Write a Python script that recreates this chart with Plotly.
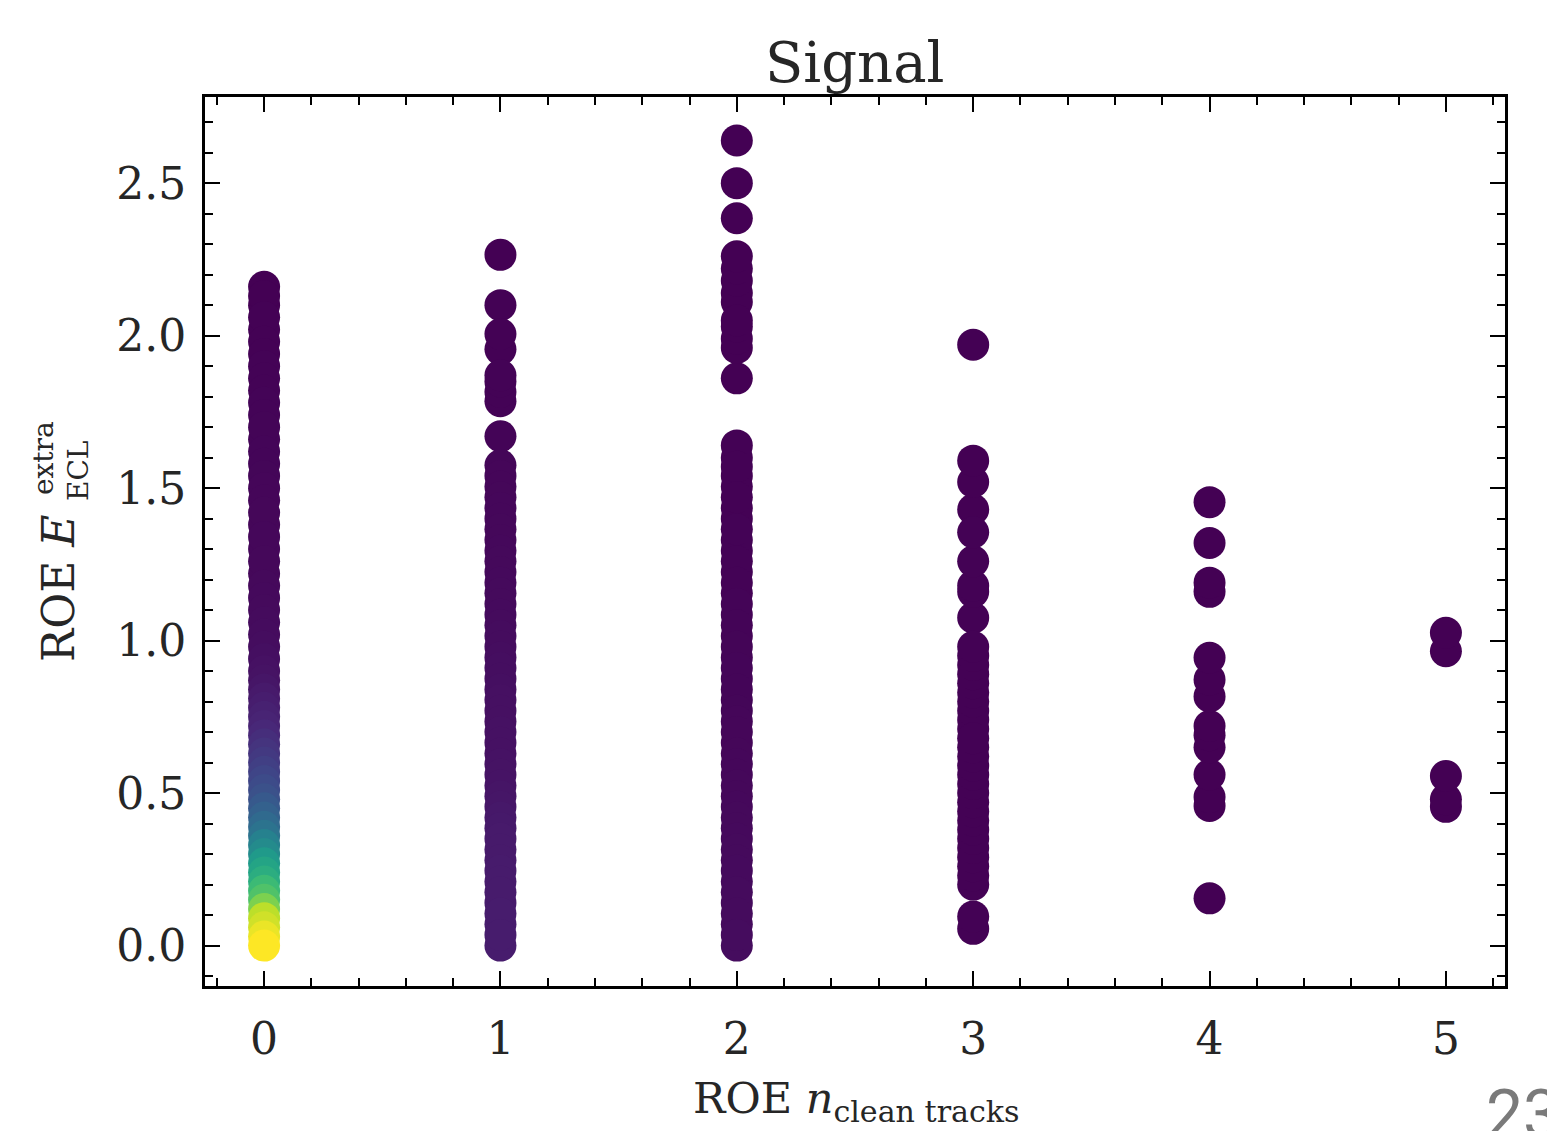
import plotly.graph_objects as go

# ---------------- data ----------------
# ROE n_clean_tracks = 0
N0_Y = [0.00, 0.03, 0.06, 0.09, 0.12, 0.15, 0.18, 0.21, 0.24, 0.27, 0.30, 0.33, 0.36, 0.39,
        0.42, 0.45, 0.48, 0.51, 0.54, 0.57, 0.60, 0.63, 0.66, 0.69, 0.72, 0.75, 0.78, 0.81,
        0.84, 0.87, 0.90, 0.94, 0.98, 1.02, 1.06, 1.10, 1.14, 1.18, 1.22, 1.26, 1.30, 1.34,
        1.38, 1.42, 1.46, 1.50, 1.54, 1.58, 1.62, 1.66, 1.70, 1.74, 1.78, 1.82, 1.86, 1.90,
        1.94, 1.98, 2.02, 2.06, 2.10, 2.13, 2.16]
N0_D = [1.00, 0.97, 0.93, 0.90, 0.80, 0.72, 0.68, 0.62, 0.58, 0.54, 0.48, 0.44, 0.38, 0.34,
        0.31, 0.28, 0.25, 0.23, 0.21, 0.19, 0.17, 0.15, 0.13, 0.11, 0.10, 0.09, 0.08, 0.07,
        0.06, 0.05, 0.045, 0.04, 0.035, 0.03, 0.028, 0.026, 0.024, 0.022, 0.020, 0.020, 0.018, 0.018,
        0.016, 0.016, 0.015, 0.014, 0.013, 0.012, 0.011, 0.010, 0.010, 0.009, 0.008, 0.007, 0.006, 0.005,
        0.004, 0.003, 0.002, 0.002, 0.001, 0.001, 0.000]

# ROE n_clean_tracks = 1
N1_Y = [0.00, 0.035, 0.07, 0.105, 0.14, 0.175, 0.21, 0.245, 0.28, 0.315, 0.35, 0.385, 0.42,
        0.455, 0.49, 0.525, 0.56, 0.595, 0.63, 0.665, 0.70, 0.735, 0.77, 0.805, 0.84, 0.875,
        0.91, 0.945, 0.98, 1.015, 1.05, 1.085, 1.12, 1.155, 1.19, 1.225, 1.26, 1.295, 1.33,
        1.365, 1.40, 1.435, 1.47, 1.505, 1.54, 1.575, 1.67, 1.785, 1.815, 1.85, 1.87, 1.955,
        2.005, 2.10, 2.265]
N1_D = [0.078, 0.078, 0.076, 0.076, 0.075, 0.075, 0.074, 0.073, 0.072, 0.071, 0.070, 0.068, 0.065,
        0.060, 0.056, 0.052, 0.050, 0.048, 0.047, 0.046, 0.045, 0.044, 0.043, 0.042, 0.040, 0.038,
        0.036, 0.034, 0.032, 0.030, 0.028, 0.027, 0.026, 0.025, 0.024, 0.023, 0.022, 0.021, 0.02,
        0.019, 0.018, 0.017, 0.016, 0.015, 0.014, 0.013, 0.008, 0.006, 0.006, 0.006, 0.006, 0.004,
        0.004, 0.002, 0.000]

# ROE n_clean_tracks = 2
N2_Y = [0.00, 0.035, 0.07, 0.105, 0.14, 0.175, 0.21, 0.245, 0.28, 0.315, 0.35, 0.385, 0.42,
        0.455, 0.49, 0.525, 0.56, 0.595, 0.63, 0.665, 0.70, 0.735, 0.77, 0.805, 0.84, 0.875,
        0.91, 0.945, 0.98, 1.015, 1.05, 1.085, 1.12, 1.155, 1.19, 1.225, 1.26, 1.295, 1.33,
        1.365, 1.40, 1.435, 1.47, 1.505, 1.54, 1.57, 1.60, 1.64, 1.86, 1.96, 1.99, 2.03, 2.05,
        2.11, 2.14, 2.18, 2.22, 2.26, 2.385, 2.50, 2.64]
N2_D = [0.030, 0.030, 0.029, 0.029, 0.028, 0.028, 0.027, 0.027, 0.026, 0.025, 0.024, 0.023, 0.022,
        0.021, 0.020, 0.019, 0.018, 0.017, 0.016, 0.015, 0.015, 0.014, 0.013, 0.012, 0.012, 0.011,
        0.011, 0.010, 0.010, 0.009, 0.009, 0.008, 0.008, 0.007, 0.007, 0.006, 0.006, 0.005, 0.005,
        0.005, 0.004, 0.004, 0.004, 0.003, 0.003, 0.003, 0.002, 0.002, 0.001, 0.001, 0.001, 0.001, 0.001,
        0.000, 0.000, 0.000, 0.000, 0.000, 0.000, 0.000, 0.000]

# ROE n_clean_tracks = 3
N3_Y = [0.055, 0.095, 0.20, 0.23, 0.26, 0.29, 0.32, 0.35, 0.38, 0.41, 0.44, 0.47, 0.50, 0.53,
        0.56, 0.59, 0.62, 0.65, 0.68, 0.71, 0.74, 0.77, 0.80, 0.83, 0.86, 0.89, 0.92, 0.95,
        0.98, 1.075, 1.16, 1.18, 1.26, 1.355, 1.43, 1.52, 1.59, 1.97]
N3_D = [0.004, 0.004, 0.004, 0.004, 0.004, 0.004, 0.004, 0.004, 0.004, 0.004, 0.004,
        0.004, 0.004, 0.004, 0.004, 0.004, 0.004, 0.004, 0.004, 0.003, 0.003, 0.003,
        0.003, 0.003, 0.003, 0.003, 0.003, 0.003, 0.003, 0.002, 0.002, 0.002, 0.002,
        0.002, 0.001, 0.001, 0.001, 0.000]

# ROE n_clean_tracks = 4
N4_Y = [0.155, 0.458, 0.487, 0.56, 0.65, 0.69, 0.72, 0.817, 0.872, 0.944, 1.16, 1.19, 1.32, 1.454]
N4_D = [0.000, 0.000, 0.000, 0.000, 0.000, 0.000, 0.000, 0.000, 0.000, 0.000, 0.000, 0.000, 0.000, 0.000]

# ROE n_clean_tracks = 5
N5_Y = [0.455, 0.48, 0.556, 0.965, 1.026]
N5_D = [0.000, 0.000, 0.000, 0.000, 0.000]

X_TICKS = [0, 1, 2, 3, 4, 5]
Y_TICKS = [0.0, 0.5, 1.0, 1.5, 2.0, 2.5]

# ---------------- assemble points ----------------
columns = [(0, N0_Y, N0_D), (1, N1_Y, N1_D), (2, N2_Y, N2_D),
           (3, N3_Y, N3_D), (4, N4_Y, N4_D), (5, N5_Y, N5_D)]
pts = []
for n, ys_, ds_ in columns:
    for y, d in zip(ys_, ds_):
        pts.append((d, n, y))
pts.sort(key=lambda p: p[0])   # densest drawn last
xs = [p[1] for p in pts]
ys = [p[2] for p in pts]
cs = [p[0] for p in pts]

# ---------------- figure ----------------
W, H = 1547, 1131
L, R, T, B = 205, 42, 97, 145
PW, PH = W - L - R, H - T - B


def px(xp):
    return (xp - L) / PW


def py(yp):
    return (H - B - yp) / PH


SERIF = "DejaVu Serif"
TXT = "#262626"

fig = go.Figure()
fig.add_trace(go.Scatter(
    x=xs, y=ys, mode="markers",
    marker=dict(size=32, color=cs, colorscale="Viridis", cmin=0, cmax=1,
                line=dict(width=0), opacity=1),
    hoverinfo="skip", showlegend=False,
))

axis_common = dict(
    showgrid=False, zeroline=False,
    showline=True, linecolor="black", linewidth=3, mirror="ticks",
    ticks="inside", ticklen=15, tickwidth=2, tickcolor="black",
    tickfont=dict(family=SERIF, size=44, color=TXT),
)

fig.update_xaxes(
    range=[-0.25, 5.25], tickmode="array", tickvals=X_TICKS,
    ticktext=[str(v) for v in X_TICKS],
    minor=dict(dtick=0.2, tick0=0, ticks="inside", ticklen=8, tickwidth=1.5,
               tickcolor="black", showgrid=False),
    ticklabelstandoff=12,
    **axis_common,
)
fig.update_yaxes(
    range=[-0.1325, 2.7825], tickmode="array", tickvals=Y_TICKS,
    ticktext=[f"{v:.1f}" for v in Y_TICKS],
    minor=dict(dtick=0.1, tick0=0, ticks="inside", ticklen=8, tickwidth=1.5,
               tickcolor="black", showgrid=False),
    ticklabelstandoff=7,
    **axis_common,
)

annotations = [
    # title
    dict(text="Signal", x=px(854), y=py(62), xanchor="center", yanchor="middle",
         font=dict(family=SERIF, size=56, color=TXT)),
    # x title
    dict(text="ROE <i>n</i><sub>clean tracks</sub>", x=px(857), y=py(1101),
         xanchor="center", yanchor="middle", font=dict(family=SERIF, size=43, color=TXT)),
    # y title pieces
    dict(text="ROE <i>E</i>", x=px(58), y=py(589), textangle=-90,
         xanchor="center", yanchor="middle", font=dict(family=SERIF, size=44, color=TXT)),
    dict(text="extra", x=px(43), y=py(458), textangle=-90,
         xanchor="center", yanchor="middle", font=dict(family=SERIF, size=28, color=TXT)),
    dict(text="ECL", x=px(78), y=py(471), textangle=-90,
         xanchor="center", yanchor="middle", font=dict(family=SERIF, size=28, color=TXT)),
    # slide page number (clipped at the edge, as in the reference)
    dict(text="23", x=px(1484), y=py(1074), xanchor="left", yanchor="top",
         font=dict(family="Roboto", size=66, color="#7a7a7a")),
]
for a in annotations:
    a.update(xref="paper", yref="paper", showarrow=False)

fig.update_layout(
    width=W, height=H,
    margin=dict(l=L, r=R, t=T, b=B, pad=0),
    paper_bgcolor="white", plot_bgcolor="white",
    annotations=annotations,
)

fig.write_html("out.html")
